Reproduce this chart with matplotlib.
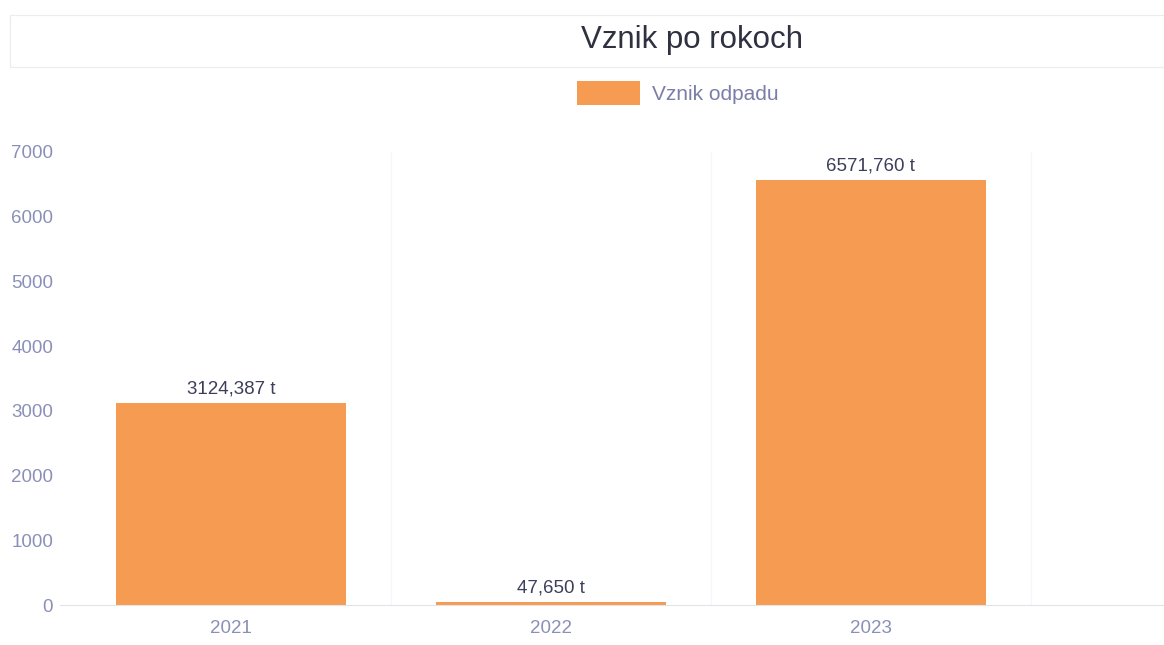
import numpy as np
import matplotlib.pyplot as plt
from matplotlib.patches import Rectangle

years = ["2021", "2022", "2023"]
values = [3124.387, 47.650, 6571.760]
labels = ["3124,387 t", "47,650 t", "6571,760 t"]
yticks = [0, 1000, 2000, 3000, 4000, 5000, 6000, 7000]

W, H = 1164, 645
fig = plt.figure(figsize=(W/100., H/100.), dpi=100)
plt.rcParams['font.family'] = ['Liberation Sans', 'DejaVu Sans']

# title box
fig.patches.append(Rectangle((10./W, 1-67./H), 1154./W, 52./H, transform=fig.transFigure,
	facecolor='white', edgecolor='#ececec', lw=0.8))
fig.text(692./W, 1-40./H, "Vznik po rokoch", ha='center', va='center', fontsize=22.5, color='#2f3140')

# plot area: x from 60 to 1164 px, y from 152 (7000) to 605 (0)
ax = fig.add_axes([60./W, 1-605./H, 1104./W, 453./H])
x = np.arange(len(years))
bars = ax.bar(x, values, width=0.72, color='#f59c52', label="Vznik odpadu", zorder=2)
for i in range(len(years)):
	ax.text(x[i], values[i]+80, labels[i], ha='center', va='bottom', fontsize=13.5, color='#3c3f5a')

ax.set_xlim(-0.534, 2.916)
ax.set_ylim(0, 7000)
ax.set_yticks(yticks)
ax.set_xticks(x)
ax.set_xticklabels(years)
ax.tick_params(axis='both', length=0, labelsize=13.5, labelcolor='#8a8fb8')
ax.tick_params(axis='y', pad=5)
ax.tick_params(axis='x', pad=11)
for s in ['top', 'right', 'left']:
	ax.spines[s].set_visible(False)
ax.spines['bottom'].set_color('#e2e2ea')
for b in [0.5, 1.5, 2.5]:
	ax.axvline(b, color='#f6f6f8', lw=0.8, zorder=1)

leg = fig.legend(handles=[bars], labels=["Vznik odpadu"], loc='center', bbox_to_anchor=(678./W, 1-93./H),
	frameon=False, fontsize=15, handlelength=3.0, handleheight=1.4, handletextpad=0.58)
for t in leg.get_texts():
	t.set_color('#7a7ea8')

plt.savefig("out.png", dpi=100)
